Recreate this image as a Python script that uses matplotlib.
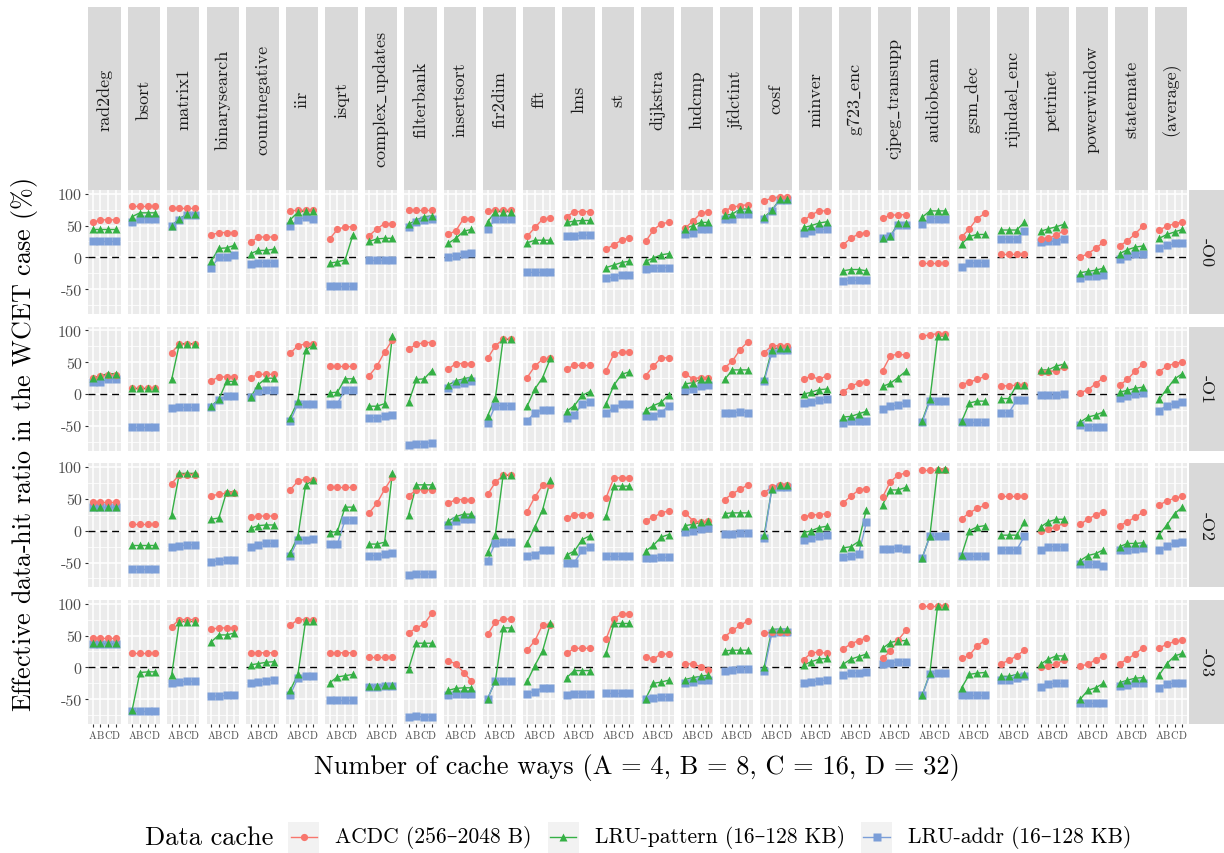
import matplotlib
matplotlib.use('Agg')
import matplotlib.pyplot as plt

plt.rcParams['font.family'] = ['cmr10', 'DejaVu Serif']
plt.rcParams['axes.unicode_minus'] = False
plt.rcParams['mathtext.fontset'] = 'cm'

benchmarks = ['rad2deg', 'bsort', 'matrix1', 'binarysearch', 'countnegative', 'iir', 'isqrt',
              'complex_updates', 'filterbank', 'insertsort', 'fir2dim', 'fft', 'lms', 'st',
              'dijkstra', 'ludcmp', 'jfdctint', 'cosf', 'minver', 'g723_enc', 'cjpeg_transupp',
              'audiobeam', 'gsm_dec', 'rijndael_enc', 'petrinet', 'powerwindow', 'statemate',
              '(average)']
opt_levels = ['-O0', '-O1', '-O2', '-O3']
ways = ['A', 'B', 'C', 'D']
series_names = ['ACDC (256–2048 B)', 'LRU-pattern (16–128 KB)', 'LRU-addr (16–128 KB)']

acdc_O0 = [[55,59,59,59],[81,81,81,81],[78,78,78,78],[35,39,39,39],[24,32,32,32],[73,74,74,74],
           [29,44,48,48],[34,45,53,53],[74,74,74,74],[36,42,61,61],[73,74,74,74],[33,47,60,62],
           [64,72,72,72],[13,20,27,31],[25,43,53,55],[46,57,69,72],[73,79,81,83],[89,93,95,95],
           [58,67,73,73],[20,30,37,39],[62,66,67,67],[-8,-8,-8,-8],[32,45,61,69],[5,5,5,5],
           [29,30,35,42],[0,6,14,24],[18,26,37,49],[43,49,53,56]]
pattern_O0 = [[45,45,45,45],[64,70,70,70],[50,61,68,68],[-6,14,15,19],[6,11,11,13],[59,71,73,73],
              [-9,-7,-4,35],[25,29,30,30],[52,59,64,65],[22,30,41,44],[56,72,72,72],[23,27,27,27],
              [55,57,58,58],[-16,-12,-8,-6],[-6,-1,4,6],[45,50,55,55],[66,68,76,76],[63,74,91,91],
              [47,50,54,56],[-21,-19,-19,-21],[31,33,54,54],[63,73,73,73],[21,33,36,36],[43,43,43,55],
              [41,45,48,52],[-24,-22,-20,-17],[6,12,16,18],[30,36,40,44]]
addr_O0 = [[25,25,25,25],[55,61,61,61],[50,59,67,67],[-16,0,0,4],[-11,-8,-8,-8],[49,59,63,61],
           [-45,-45,-45,-45],[-4,-4,-4,-4],[48,55,59,60],[1,3,6,7],[45,60,60,60],[-23,-23,-23,-23],
           [33,33,35,35],[-32,-31,-27,-27],[-18,-17,-16,-16],[36,39,45,44],[61,61,68,68],[61,73,90,90],
           [39,42,44,44],[-37,-36,-36,-36],[30,33,51,51],[52,61,61,61],[-15,-9,-8,-8],[29,29,29,42],
           [24,25,26,29],[-32,-29,-29,-28],[-2,3,6,6],[15,19,22,22]]

acdc_O1 = [[25,28,30,30],[10,10,10,10],[65,79,79,79],[21,27,27,27],[26,31,31,31],[64,76,79,79],
           [44,44,44,44],[29,44,66,85],[71,78,81,81],[39,48,48,48],[56,76,86,86],[26,44,55,56],
           [40,45,45,45],[37,63,66,66],[29,44,57,57],[32,24,26,26],[41,52,70,82],[65,76,76,76],
           [24,28,23,29],[4,12,18,19],[37,60,63,61],[91,93,95,95],[15,19,23,28],[13,13,14,14],
           [34,35,37,42],[2,7,16,26],[14,23,36,47],[35,44,48,51]]
pattern_O1 = [[25,29,32,32],[10,10,10,10],[23,79,79,79],[-19,-8,20,20],[-5,15,25,25],[-37,-11,70,77],
              [2,3,24,24],[-19,-19,-15,91],[-13,23,24,37],[14,21,24,27],[-34,-6,86,86],[-19,8,26,56],
              [-27,-18,-2,4],[-15,14,31,35],[-25,-18,-13,-1],[16,18,23,24],[23,38,38,38],[23,70,73,73],
              [0,3,7,8],[-36,-35,-31,-27],[12,17,26,36],[-42,-8,91,91],[-43,-14,-11,-11],[-7,-7,14,14],
              [38,38,44,47],[-44,-36,-33,-28],[3,6,9,11],[-8,8,24,32]]
addr_O1 = [[19,19,23,23],[-51,-51,-51,-51],[-22,-21,-21,-21],[-20,-10,-3,-3],[-5,5,6,6],[-43,-15,-15,-15],
           [-15,-15,7,7],[-37,-37,-34,-33],[-80,-79,-78,-76],[10,16,18,20],[-46,-18,-18,-18],[-42,-29,-25,-25],
           [-37,-33,-15,-12],[-29,-22,-16,-16],[-34,-34,-29,-18],[7,8,12,14],[-29,-29,-28,-29],[20,65,69,69],
           [-14,-12,-10,-8],[-46,-43,-43,-43],[-23,-19,-17,-14],[-44,-11,-11,-11],[-44,-44,-44,-44],
           [-29,-29,-10,-10],[-2,-2,-2,0],[-49,-51,-51,-51],[-6,-3,0,2],[-26,-18,-15,-13]]

acdc_O2 = [[45,45,45,45],[10,10,10,10],[74,88,88,88],[55,57,59,59],[21,23,23,23],[64,78,81,80],
           [68,68,68,68],[28,43,65,84],[55,64,64,64],[43,49,49,49],[57,76,87,87],[30,53,71,72],
           [20,25,25,25],[52,83,83,83],[16,21,28,31],[28,16,13,15],[49,58,65,72],[59,69,72,72],
           [21,25,25,27],[44,54,64,66],[53,77,87,91],[96,96,96,96],[19,28,35,40],[54,54,54,54],
           [0,2,6,12],[10,18,25,30],[8,14,21,29],[40,47,51,54]]
pattern_O2 = [[38,38,38,38],[-23,-23,-23,-23],[25,90,90,90],[18,20,61,61],[4,8,9,9],[-35,-9,72,79],
              [-3,-1,37,37],[-21,-21,-18,91],[25,72,72,72],[15,22,26,26],[-34,-6,87,87],[-19,6,33,79],
              [-38,-32,-14,-8],[23,70,70,70],[-32,-23,-10,-6],[8,10,13,15],[27,28,28,28],[-7,66,72,72],
              [-3,0,5,7],[-27,-25,-17,33],[41,64,64,68],[-43,-8,97,97],[-38,0,6,8],[-7,-7,-7,13],
              [6,14,18,18],[-47,-39,-36,-30],[-25,-20,-20,-19],[-6,9,27,37]]
addr_O2 = [[37,37,37,37],[-60,-60,-60,-60],[-25,-24,-22,-22],[-49,-47,-46,-46],[-25,-22,-20,-20],
           [-40,-14,-14,-13],[-21,-21,17,17],[-39,-39,-37,-35],[-69,-68,-68,-68],[9,15,18,18],
           [-47,-19,-18,-18],[-39,-38,-30,-30],[-50,-50,-31,-26],[-39,-39,-39,-39],[-43,-43,-42,-42],
           [-2,0,3,4],[-5,-5,-4,-4],[-12,66,69,69],[-14,-12,-9,-7],[-42,-40,-37,13],[-28,-28,-27,-28],
           [-43,-9,-9,-9],[-40,-40,-40,-40],[-30,-30,-30,-9],[-31,-25,-25,-25],[-53,-53,-53,-55],
           [-31,-30,-29,-27],[-31,-24,-20,-17]]

acdc_O3 = [[46,46,46,46],[22,22,22,22],[64,75,75,75],[60,62,62,62],[22,23,23,23],[66,75,75,75],
           [22,23,23,23],[17,17,17,17],[54,62,68,85],[10,6,-8,-21],[52,71,76,76],[27,42,67,67],
           [22,30,30,30],[45,76,84,84],[17,13,21,21],[5,6,1,-4],[48,58,66,73],[54,55,55,55],
           [12,23,24,22],[29,37,42,46],[14,26,43,58],[96,96,96,96],[14,19,34,42],[6,11,18,27],
           [0,3,5,12],[2,5,12,18],[6,13,21,31],[31,36,41,43]]
pattern_O3 = [[38,38,38,38],[-67,-8,-7,-7],[-12,72,72,72],[40,51,51,54],[4,6,8,9],[-36,-11,73,73],
              [-24,-15,-13,-11],[-29,-29,-28,-28],[-2,38,38,38],[-36,-33,-32,-32],[-49,-21,62,62],
              [-22,3,26,69],[-16,-5,-5,-5],[22,69,69,69],[-49,-25,-23,-20],[-19,-16,-14,-12],
              [26,27,27,27],[0,60,60,60],[4,9,13,14],[5,13,17,21],[30,39,42,42],[-44,-9,97,97],
              [-32,-11,-9,-8],[-14,-14,-11,-11],[5,13,18,18],[-50,-36,-32,-25],[-24,-20,-17,-16],
              [-12,6,18,22]]
addr_O3 = [[37,37,37,37],[-68,-68,-68,-68],[-24,-23,-22,-22],[-45,-45,-44,-44],[-25,-23,-21,-19],
           [-43,-17,-14,-14],[-51,-51,-51,-51],[-31,-31,-29,-29],[-78,-77,-78,-78],[-44,-41,-41,-41],
           [-49,-21,-21,-21],[-41,-38,-32,-32],[-44,-41,-41,-41],[-40,-40,-40,-40],[-49,-48,-46,-46],
           [-24,-23,-20,-19],[-5,-4,-3,-3],[-6,54,55,55],[-24,-23,-21,-20],[-12,-9,-8,-7],[6,7,9,9],
           [-44,-11,-9,-9],[-44,-44,-44,-44],[-19,-19,-16,-14],[-31,-26,-25,-25],[-56,-56,-56,-56],
           [-29,-27,-25,-25],[-32,-26,-25,-24]]

acdc_rows = [acdc_O0, acdc_O1, acdc_O2, acdc_O3]
pattern_rows = [pattern_O0, pattern_O1, pattern_O2, pattern_O3]
addr_rows = [addr_O0, addr_O1, addr_O2, addr_O3]

colors = ['#F8766D', '#35B045', '#7B9ED8']
markers = ['o', '^', 's']
msizes = [5.2, 6.4, 5.4]
zords = [4, 5, 3]
data_rows = [acdc_rows, pattern_rows, addr_rows]

W, H = 1224, 854
fig = plt.figure(figsize=(W / 100, H / 100), dpi=100)


def px_axes(x, y, w, h):
    return fig.add_axes([x / W, 1 - (y + h) / H, w / W, h / H])


def strip_label(name):
    if '_' in name:
        return r'$\mathrm{' + name.replace('_', r'\_') + '}$'
    return name


LEFT = 88.0
PITCH = 39.5
PW = 32.5
ROW_TOP = [191.0, 327.7, 464.3, 601.0]
PH = 124.0
STRIP_TOP = 8.0
YLIM = (-88.85, 105.85)
xs = list(range(1, len(ways) + 1))
GRAY30 = '#4D4D4D'

for r, opt in enumerate(opt_levels):
    for c, bench in enumerate(benchmarks):
        ax = px_axes(LEFT + c * PITCH, ROW_TOP[r], PW, PH)
        ax.set_facecolor('#EBEBEB')
        for s in ax.spines.values():
            s.set_visible(False)
        ax.set_xlim(0.4, 4.6)
        ax.set_ylim(*YLIM)
        ax.set_xticks(xs)
        ax.set_yticks([-50, 0, 50, 100])
        ax.set_yticks([-75, -25, 25, 75], minor=True)
        ax.grid(which='major', color='white', lw=1.1)
        ax.grid(which='minor', axis='y', color='white', lw=0.55)
        ax.set_axisbelow(True)
        ax.axhline(0, color='black', lw=1.0, ls=(0, (5, 3.5)), zorder=1.5)
        for k in range(3):
            vals = data_rows[k][r][c]
            ax.plot(xs, vals, color=colors[k], lw=1.0, zorder=2)
        for k in [2, 0, 1]:
            vals = data_rows[k][r][c]
            ax.plot(xs, vals, ls='none', marker=markers[k], ms=msizes[k],
                    color=colors[k], mec='none', zorder=zords[k])
        ax.tick_params(which='minor', left=False)
        if c == 0:
            ax.set_yticklabels(['-50', '0', '50', '100'])
            ax.tick_params(axis='y', which='major', length=2.5, width=0.8, color='#333333',
                           labelsize=11.5, labelcolor=GRAY30, pad=2)
        else:
            ax.tick_params(axis='y', which='major', left=False, labelleft=False)
        if r == len(opt_levels) - 1:
            ax.set_xticklabels(ways)
            ax.tick_params(axis='x', length=2.5, width=0.8, color='#333333',
                           labelsize=7.5, labelcolor=GRAY30, pad=2)
        else:
            ax.tick_params(axis='x', bottom=False, labelbottom=False)

# top strips
for c, bench in enumerate(benchmarks):
    sax = px_axes(LEFT + c * PITCH, STRIP_TOP, PW, ROW_TOP[0] - STRIP_TOP)
    sax.set_facecolor('#D9D9D9')
    sax.set_xticks([]); sax.set_yticks([])
    for s in sax.spines.values():
        s.set_visible(False)
    sax.text(0.5, 0.5, strip_label(bench), rotation=90, ha='center', va='center',
             fontsize=13, color='#1A1A1A', transform=sax.transAxes)

# right strips
for r, opt in enumerate(opt_levels):
    rax = px_axes(1189, ROW_TOP[r], 35, PH)
    rax.set_facecolor('#D9D9D9')
    rax.set_xticks([]); rax.set_yticks([])
    for s in rax.spines.values():
        s.set_visible(False)
    rax.text(0.5, 0.5, opt, rotation=270, ha='center', va='center',
             fontsize=13, color='#1A1A1A', transform=rax.transAxes)

fig.text(25 / W, 1 - 445 / H, r'Effective data-hit ratio in the WCET case $(\%)$', rotation=90,
         ha='center', va='center', fontsize=18.8)
fig.text(637 / W, 1 - 768 / H, 'Number of cache ways (A = 4, B = 8, C = 16, D = 32)',
         ha='center', va='center', fontsize=19)

# legend (laid out from measured text widths)
fig.canvas.draw()
renderer = fig.canvas.get_renderer()
LEG_Y = 838
xcur = 145.0
title = fig.text(xcur / W, 1 - LEG_Y / H, 'Data cache', ha='left', va='center', fontsize=19)
xcur += title.get_window_extent(renderer).width + 15
for k in range(3):
    kax = px_axes(xcur, LEG_Y - 15.5, 31, 31)
    kax.set_facecolor('#F2F2F2')
    kax.set_xticks([]); kax.set_yticks([])
    for s in kax.spines.values():
        s.set_visible(False)
    kax.set_xlim(0, 1); kax.set_ylim(0, 1)
    kax.plot([0.08, 0.92], [0.5, 0.5], color=colors[k], lw=1.0)
    kax.plot([0.5], [0.5], marker=markers[k], ms=msizes[k], color=colors[k], mec='none')
    xcur += 31 + 16
    lab = fig.text(xcur / W, 1 - LEG_Y / H, series_names[k], ha='left', va='center',
                   fontsize=15.5)
    xcur += lab.get_window_extent(renderer).width + 16

fig.savefig('out.png', dpi=100)
